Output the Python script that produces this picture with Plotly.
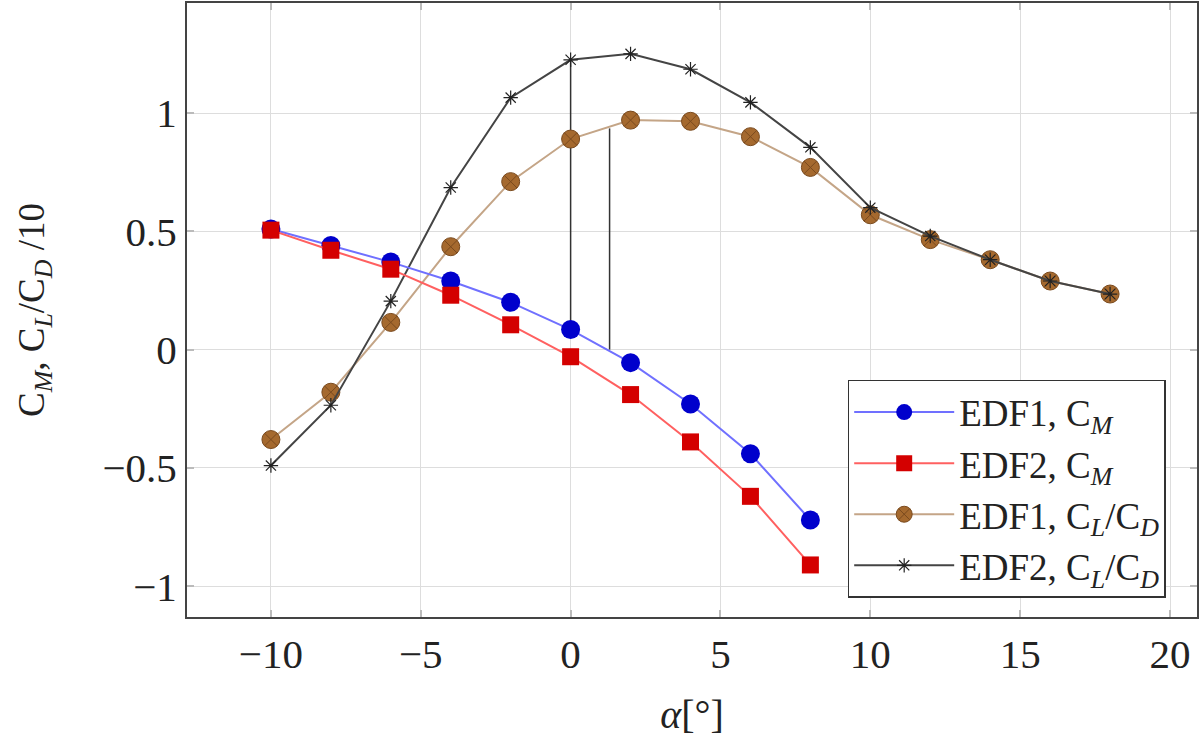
import plotly.graph_objects as go

# angle of attack (deg)
alpha_cm = [-10, -8, -6, -4, -2, 0, 2, 4, 6, 8]
alpha_ld = [-10, -8, -6, -4, -2, 0, 2, 4, 6, 8, 10, 12, 14, 16, 18]

edf1_cm = [0.51, 0.44, 0.37, 0.29, 0.20, 0.085, -0.055, -0.23, -0.44, -0.72]
edf2_cm = [0.505, 0.42, 0.34, 0.23, 0.105, -0.03, -0.19, -0.39, -0.62, -0.91]
edf1_ld = [-0.38, -0.18, 0.115, 0.435, 0.71, 0.89, 0.97, 0.965, 0.90, 0.77,
           0.57, 0.465, 0.38, 0.29, 0.235]
edf2_ld = [-0.49, -0.235, 0.205, 0.685, 1.065, 1.225, 1.25, 1.185, 1.045, 0.855,
           0.60, 0.48, 0.38, 0.29, 0.235]

# thin vertical marker lines
vline_x = [0, 1.3]
vline_top = [1.225, 0.935]
vline_bot = [0.085, 0.0]

xticks = [-10, -5, 0, 5, 10, 15, 20]
yticks = [-1, -0.5, 0, 0.5, 1]
yticklabels = ["\u22121", "\u22120.5", "0", "0.5", "1"]
xticklabels = ["\u221210", "\u22125", "0", "5", "10", "15", "20"]

FONT = "Liberation Serif"

fig = go.Figure()

vx, vy = [], []
for x, t, b in zip(vline_x, vline_top, vline_bot):
    vx += [x, x, None]
    vy += [b, t, None]
fig.add_trace(go.Scatter(x=vx, y=vy, mode="lines", showlegend=False,
                         line=dict(color="#333333", width=1.5), hoverinfo="skip"))

fig.add_trace(go.Scatter(
    x=alpha_ld, y=edf1_ld, mode="lines+markers", legendrank=3,
    name="EDF1, C<sub><i>L</i></sub>/C<sub><i>D</i></sub>",
    line=dict(color="#c4a587", width=2),
    marker=dict(symbol="circle-x", size=18, color="#a5692e",
                line=dict(color="#7a4a1e", width=1)),
))
fig.add_trace(go.Scatter(
    x=alpha_ld, y=edf2_ld, mode="lines+markers", legendrank=4,
    name="EDF2, C<sub><i>L</i></sub>/C<sub><i>D</i></sub>",
    line=dict(color="#444444", width=2),
    marker=dict(symbol="asterisk-open", size=12, color="#222222",
                line=dict(color="#222222", width=1.2)),
))
fig.add_trace(go.Scatter(
    x=alpha_cm, y=edf1_cm, mode="lines+markers", legendrank=1,
    name="EDF1, C<sub><i>M</i></sub>",
    line=dict(color="#7070ff", width=2),
    marker=dict(symbol="circle", size=19, color="#0000cc"),
))
fig.add_trace(go.Scatter(
    x=alpha_cm, y=edf2_cm, mode="lines+markers", legendrank=2,
    name="EDF2, C<sub><i>M</i></sub>",
    line=dict(color="#ff6060", width=2),
    marker=dict(symbol="square", size=17, color="#d40000"),
))

axis_common = dict(
    showline=True, linecolor="#444444", linewidth=2, mirror="ticks",
    ticks="inside", ticklen=7, tickcolor="#bbbbbb", tickwidth=1.5,
    showgrid=True, gridcolor="#dddddd", gridwidth=1.2, zeroline=False,
    tickfont=dict(family=FONT, size=41, color="#222222"),
    automargin=False,
)

fig.update_xaxes(axis_common, range=[-12.8, 20.9], tickvals=xticks, ticktext=xticklabels,
                 title=dict(text="<i>\u03b1</i>[\u00b0]", font=dict(family=FONT, size=40, color="#222222"),
                            standoff=24))
fig.update_yaxes(axis_common, range=[-1.13, 1.465], tickvals=yticks, ticktext=yticklabels,
                 title=dict(text="C<sub><i>M</i></sub>, C<sub><i>L</i></sub>/C<sub><i>D</i></sub> /10",
                            font=dict(family=FONT, size=37, color="#222222"), standoff=46))

fig.update_layout(
    width=1200, height=738,
    margin=dict(l=187, r=3, t=3, b=121),
    paper_bgcolor="white", plot_bgcolor="white",
    legend=dict(
        x=0.969, y=0.386, xanchor="right", yanchor="top",
        bgcolor="white", bordercolor="#333333", borderwidth=1.5,
        font=dict(family=FONT, size=37, color="#222222"),
        itemwidth=100, tracegroupgap=0,
    ),
)

fig.write_html("out.html", config={"displayModeBar": False},
               post_script="document.body.style.margin='0';document.body.style.padding='0';")
